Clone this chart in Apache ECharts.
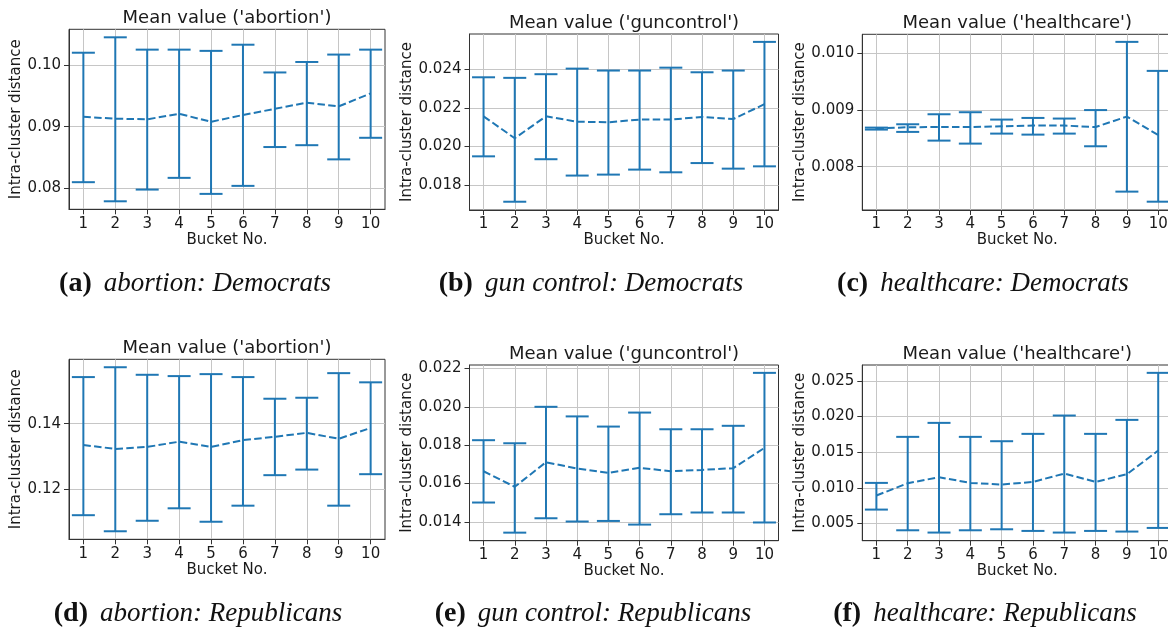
<!DOCTYPE html>
<html>
<head>
<meta charset="utf-8">
<script src="https://cdn.jsdelivr.net/npm/echarts@6/dist/echarts.min.js"></script>
<style>
  html, body { margin: 0; padding: 0; background: #ffffff; }
  #chart { width: 1168px; height: 632px; }
</style>
</head>
<body>
<div id="chart"></div>
<script>
// Bucket numbers shared by every panel
const buckets = [1, 2, 3, 4, 5, 6, 7, 8, 9, 10];

// abortion, Democrats: mean intra-cluster distance and error-bar ends
const abortionDemMean = [0.0916, 0.0913, 0.0912, 0.0921, 0.0908, 0.0919, 0.0929, 0.0939, 0.0933, 0.0954];
const abortionDemLow  = [0.0810, 0.0779, 0.0798, 0.0817, 0.0791, 0.0804, 0.0867, 0.0870, 0.0847, 0.0882];
const abortionDemHigh = [0.1020, 0.1045, 0.1025, 0.1025, 0.1023, 0.1033, 0.0988, 0.1005, 0.1017, 0.1025];

// gun control, Democrats
const gunDemMean = [0.02157, 0.02043, 0.02157, 0.02129, 0.02126, 0.02140, 0.02140, 0.02154, 0.02143, 0.02220];
const gunDemLow  = [0.01949, 0.01713, 0.01934, 0.01849, 0.01854, 0.01880, 0.01866, 0.01914, 0.01885, 0.01897];
const gunDemHigh = [0.02360, 0.02357, 0.02376, 0.02405, 0.02395, 0.02395, 0.02410, 0.02386, 0.02395, 0.02544];

// healthcare, Democrats
const healthDemMean = [0.008675, 0.008696, 0.008702, 0.008700, 0.008714, 0.008726, 0.008726, 0.008700, 0.008885, 0.008560];
const healthDemLow  = [0.008655, 0.008614, 0.008460, 0.008407, 0.008584, 0.008566, 0.008584, 0.008360, 0.007558, 0.007380];
const healthDemHigh = [0.008690, 0.008749, 0.008926, 0.008962, 0.008832, 0.008861, 0.008850, 0.009000, 0.010206, 0.009693];

// abortion, Republicans
const abortionRepMean = [0.1335, 0.1323, 0.1329, 0.1345, 0.1329, 0.1350, 0.1360, 0.1372, 0.1354, 0.1387];
const abortionRepLow  = [0.1121, 0.1072, 0.1104, 0.1142, 0.1101, 0.1150, 0.1243, 0.1260, 0.1150, 0.1246];
const abortionRepHigh = [0.1542, 0.1572, 0.1549, 0.1545, 0.1551, 0.1542, 0.1476, 0.1479, 0.1554, 0.1526];

// gun control, Republicans
const gunRepMean = [0.01664, 0.01583, 0.01711, 0.01678, 0.01656, 0.01682, 0.01664, 0.01671, 0.01680, 0.01786];
const gunRepLow  = [0.01501, 0.01344, 0.01419, 0.01402, 0.01405, 0.01386, 0.01440, 0.01449, 0.01449, 0.01397];
const gunRepHigh = [0.01826, 0.01810, 0.02000, 0.01950, 0.01897, 0.01970, 0.01883, 0.01883, 0.01901, 0.02177];

// healthcare, Republicans
const healthRepMean = [0.00893, 0.01065, 0.01150, 0.01070, 0.01047, 0.01084, 0.01201, 0.01084, 0.01192, 0.01523];
const healthRepLow  = [0.00696, 0.00406, 0.00374, 0.00406, 0.00420, 0.00397, 0.00374, 0.00397, 0.00388, 0.00439];
const healthRepHigh = [0.01070, 0.01715, 0.01911, 0.01715, 0.01654, 0.01757, 0.02014, 0.01757, 0.01953, 0.02612];

// y tick labels of each panel
const abortionDemTicks = [0.08, 0.09, 0.10];
const gunDemTicks      = [0.018, 0.020, 0.022, 0.024];
const healthDemTicks   = [0.008, 0.009, 0.010];
const abortionRepTicks = [0.12, 0.14];
const gunRepTicks      = [0.014, 0.016, 0.018, 0.020, 0.022];
const healthRepTicks   = [0.005, 0.010, 0.015, 0.020, 0.025];

// y ranges of each panel
const abortionDemRange = [0.0766, 0.1058];
const gunDemRange      = [0.01670, 0.02585];
const healthDemRange   = [0.007233, 0.010340];
const abortionRepRange = [0.10475, 0.15962];
const gunRepRange      = [0.01302, 0.02218];
const healthRepRange   = [0.00260, 0.02722];

// panel titles and captions
const topicTitles = ["Mean value ('abortion')", "Mean value ('guncontrol')", "Mean value ('healthcare')"];
const captionTags = ['(a)', '(b)', '(c)', '(d)', '(e)', '(f)'];
const captionTexts = [
  'abortion: Democrats', 'gun control: Democrats', 'healthcare: Democrats',
  'abortion: Republicans', 'gun control: Republicans', 'healthcare: Republicans'
];

const BLUE = '#1f77b4';
const TEXT = '#1a1a1a';
const SANS = 'DejaVu Sans';
const SERIF = 'Liberation Serif';

const panels = [
  { mean: abortionDemMean, low: abortionDemLow, high: abortionDemHigh, ticks: abortionDemTicks, range: abortionDemRange, dec: 2, title: topicTitles[0],
    box: { left: 69, top: 29.3, width: 316, height: 180 }, nameGap: 44 },
  { mean: gunDemMean, low: gunDemLow, high: gunDemHigh, ticks: gunDemTicks, range: gunDemRange, dec: 3, title: topicTitles[1],
    box: { left: 469.5, top: 34, width: 309, height: 176 }, nameGap: 54 },
  { mean: healthDemMean, low: healthDemLow, high: healthDemHigh, ticks: healthDemTicks, range: healthDemRange, dec: 3, title: topicTitles[2],
    box: { left: 862.3, top: 34.3, width: 310, height: 175.7 }, nameGap: 54 },
  { mean: abortionRepMean, low: abortionRepLow, high: abortionRepHigh, ticks: abortionRepTicks, range: abortionRepRange, dec: 2, title: topicTitles[0],
    box: { left: 69, top: 359.3, width: 316, height: 180 }, nameGap: 44 },
  { mean: gunRepMean, low: gunRepLow, high: gunRepHigh, ticks: gunRepTicks, range: gunRepRange, dec: 3, title: topicTitles[1],
    box: { left: 469.5, top: 365, width: 309, height: 175.7 }, nameGap: 54 },
  { mean: healthRepMean, low: healthRepLow, high: healthRepHigh, ticks: healthRepTicks, range: healthRepRange, dec: 3, title: topicTitles[2],
    box: { left: 862.3, top: 365, width: 310, height: 175.7 }, nameGap: 54 }
];

// caption centres under each panel
const captionPos = [[195, 284], [591, 284], [983, 284], [198, 614], [593, 614], [985, 614]];

const grid = [], xAxis = [], yAxis = [], series = [], graphic = [];

panels.forEach((p, i) => {
  grid.push(Object.assign({
    show: true, borderColor: '#333', borderWidth: 1, backgroundColor: 'transparent',
    containLabel: false, outerBoundsMode: 'none'
  }, p.box));

  xAxis.push({
    type: 'value', gridIndex: i, min: 0.55, max: 10.45,
    name: 'Bucket No.', nameLocation: 'middle', nameGap: 23,
    nameTextStyle: { fontFamily: SANS, fontSize: 15, color: TEXT },
    axisLine: { show: true, onZero: false, lineStyle: { color: '#333', width: 1 } },
    axisTick: { show: true, customValues: buckets, length: 5, lineStyle: { color: '#333', width: 1 } },
    axisLabel: { customValues: buckets, fontFamily: SANS, fontSize: 15, color: TEXT, margin: 7 },
    splitLine: { show: true, lineStyle: { color: '#c6c6c6', width: 1 } }
  });

  yAxis.push({
    type: 'value', gridIndex: i, min: p.range[0], max: p.range[1],
    name: 'Intra-cluster distance', nameLocation: 'middle', nameGap: p.nameGap + 1,
    nameTextStyle: { fontFamily: SANS, fontSize: 15, color: TEXT },
    axisLine: { show: true, onZero: false, lineStyle: { color: '#333', width: 1 } },
    axisTick: { show: true, customValues: p.ticks, length: 5, lineStyle: { color: '#333', width: 1 } },
    axisLabel: { customValues: p.ticks, fontFamily: SANS, fontSize: 15, color: TEXT, margin: 8,
                 formatter: v => Number(v).toFixed(p.dec) },
    splitLine: { show: true, lineStyle: { color: '#c6c6c6', width: 1 } }
  });

  // error bars with caps
  series.push({
    type: 'custom', xAxisIndex: i, yAxisIndex: i, z: 3,
    data: buckets.map((b, k) => [b, p.low[k], p.high[k]]),
    encode: { x: 0, y: [1, 2] },
    renderItem: (params, api) => {
      const x = api.value(0);
      const lo = api.coord([x, api.value(1)]);
      const hi = api.coord([x, api.value(2)]);
      const cap = 11.5;
      const style = { stroke: BLUE, lineWidth: 2 };
      return {
        type: 'group',
        children: [
          { type: 'line', shape: { x1: lo[0], y1: lo[1], x2: hi[0], y2: hi[1] }, style },
          { type: 'line', shape: { x1: lo[0] - cap, y1: lo[1], x2: lo[0] + cap, y2: lo[1] }, style },
          { type: 'line', shape: { x1: hi[0] - cap, y1: hi[1], x2: hi[0] + cap, y2: hi[1] }, style }
        ]
      };
    }
  });

  // dashed line through the means
  series.push({
    type: 'line', xAxisIndex: i, yAxisIndex: i, z: 4,
    data: buckets.map((b, k) => [b, p.mean[k]]),
    showSymbol: false, symbol: 'none',
    lineStyle: { color: BLUE, width: 2, type: [7.5, 3.3] }
  });

  // panel title
  graphic.push({
    type: 'text',
    x: p.box.left + p.box.width / 2,
    y: p.box.top - 11,
    style: {
      text: p.title, align: 'center', verticalAlign: 'middle',
      fontFamily: SANS, fontSize: 18, fill: TEXT
    }
  });

  // caption below the panel
  graphic.push({
    type: 'text',
    x: captionPos[i][0],
    y: captionPos[i][1],
    style: {
      text: '{b|' + captionTags[i] + '}{g| }{t|' + captionTexts[i] + '}',
      align: 'center', verticalAlign: 'middle',
      rich: {
        b: { fontFamily: SERIF, fontWeight: 'bold', fontSize: 28, fill: '#111' },
        g: { fontFamily: SERIF, fontSize: 27, width: 12 },
        t: { fontFamily: SERIF, fontStyle: 'italic', fontSize: 27, fill: '#111' }
      }
    }
  });
});

const chart = echarts.init(document.getElementById('chart'), null, { renderer: 'canvas' });
chart.setOption({
  backgroundColor: '#ffffff',
  animation: false,
  grid, xAxis, yAxis, series, graphic
});
</script>
</body>
</html>
